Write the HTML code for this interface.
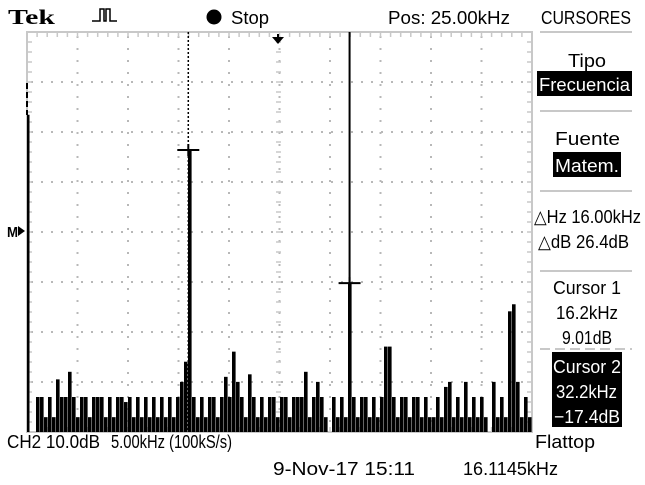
<!DOCTYPE html>
<html><head><meta charset="utf-8"><style>
html,body{margin:0;padding:0;background:#fff;width:645px;height:485px;overflow:hidden}
svg text{font-family:"Liberation Sans",sans-serif;font-size:18.5px;fill:#000}
</style></head><body>
<svg id="scope" width="645" height="485" viewBox="0 0 645 485" xmlns="http://www.w3.org/2000/svg">
<rect width="645" height="485" fill="#fff"/>
<g id="grid"></g>
<g id="bars"></g>
<g id="cursors"></g>

<text x="8" y="24" style="font-family:'Liberation Serif',serif;font-weight:bold;font-size:21px" textLength="47" lengthAdjust="spacingAndGlyphs">Tek</text>
<path d="M92 21 H100 V9 H104 V21 H106 V9 H110 V21 H117" fill="none" stroke="#000" stroke-width="1.5"/>
<circle cx="214" cy="17" r="7.5" fill="#000"/>
<text x="231" y="24" textLength="38" lengthAdjust="spacingAndGlyphs">Stop</text>
<text x="388" y="24" textLength="122" lengthAdjust="spacingAndGlyphs">Pos: 25.00kHz</text>
<text x="541" y="24" textLength="90" lengthAdjust="spacingAndGlyphs">CURSORES</text>

<g stroke="#c8c8c8" stroke-width="2">
<line x1="540" y1="32" x2="632" y2="32"/>
<line x1="540" y1="111" x2="632" y2="111"/>
<line x1="540" y1="191" x2="632" y2="191"/>
<line x1="540" y1="271" x2="632" y2="271"/>
<line x1="540" y1="349" x2="632" y2="349" stroke-dasharray="10,5"/>
</g>
<text x="568" y="67" textLength="38" lengthAdjust="spacingAndGlyphs">Tipo</text>
<rect x="537" y="71" width="95" height="25" fill="#000"/>
<text x="539" y="91" style="fill:#fff" textLength="91" lengthAdjust="spacingAndGlyphs">Frecuencia</text>
<text x="555" y="145" textLength="65" lengthAdjust="spacingAndGlyphs">Fuente</text>
<rect x="553" y="152" width="68" height="25" fill="#000"/>
<text x="555" y="172" style="fill:#fff" textLength="64" lengthAdjust="spacingAndGlyphs">Matem.</text>
<text x="534" y="223" textLength="107" lengthAdjust="spacingAndGlyphs">△Hz 16.00kHz</text>
<text x="538" y="248" textLength="91" lengthAdjust="spacingAndGlyphs">△dB 26.4dB</text>
<text x="553" y="294" textLength="68" lengthAdjust="spacingAndGlyphs">Cursor 1</text>
<text x="556" y="319" textLength="62" lengthAdjust="spacingAndGlyphs">16.2kHz</text>
<text x="562" y="344" textLength="50" lengthAdjust="spacingAndGlyphs">9.01dB</text>
<rect x="552" y="352" width="70" height="75" fill="#000"/>
<text x="553" y="373" style="fill:#fff" textLength="68" lengthAdjust="spacingAndGlyphs">Cursor 2</text>
<text x="556" y="398" style="fill:#fff" textLength="61" lengthAdjust="spacingAndGlyphs">32.2kHz</text>
<text x="554" y="423" style="fill:#fff" textLength="66" lengthAdjust="spacingAndGlyphs">−17.4dB</text>

<text x="7" y="448" textLength="93" lengthAdjust="spacingAndGlyphs">CH2 10.0dB</text>
<text x="111" y="448" textLength="121" lengthAdjust="spacingAndGlyphs">5.00kHz (100kS/s)</text>
<text x="535" y="448" textLength="60" lengthAdjust="spacingAndGlyphs">Flattop</text>
<text x="273" y="475" textLength="142" lengthAdjust="spacingAndGlyphs">9-Nov-17 15:11</text>
<text x="463" y="475" textLength="95" lengthAdjust="spacingAndGlyphs">16.1145kHz</text>
<text x="7" y="237" style="font-size:15px;font-weight:bold" textLength="11" lengthAdjust="spacingAndGlyphs">M</text>
<path d="M18 226 L25 231 L18 236 Z" fill="#000"/>
<path d="M272 37 H284 L278 44 Z M277 34 H279 V37 H277 Z" fill="#000"/>
</svg>
<script>
// Spectrum data: 126 bins, 4px each (0..50 kHz span), level in dB
const binLevelsDb = [16,-47,-40,-40,-44,-40,-44,-36.5,-40,-40,-35,-40,-44,-40,-40,-44,-40,-40,-40,-44,-40,-44,-40,-40,-41,-40,-44,-40,-44,-40,-44,-40,-44,-40,-44,-40,-44,-40,-37,-33,9,-40,-44,-40,-44,-40,-40,-44,-40,-36,-40,-31,-37,-40,-44,-35.5,-40,-44,-40,-44,-40,-40,-44,-40,-40,-44,-40,-40,-40,-35,-44,-40,-37,-40,-44,-47,-40,-44,-40,-44,-17.4,-40,-44,-40,-40,-44,-40,-44,-40,-30,-30,-40,-44,-40,-40,-44,-40,-40,-44,-40,-44,-44,-40,-44,-38,-37,-44,-40,-44,-37,-44,-40,-44,-40,-44,-47,-37,-44,-40,-44,-23,-21.6,-37,-44,-40,-44];
const cursorFreqsKHz = [16.2, 32.2];
const cursorLevelsDb = [9.01, -17.4];
const spanKHz = 50;

const NS = "http://www.w3.org/2000/svg";
const X0 = 28, X1 = 532, Y0 = 32, Y1 = 432;
function xOfBin(i){ return X0 + i * (X1 - X0) / binLevelsDb.length; }
function xOfFreq(f){ return X0 + f / spanKHz * (X1 - X0) - 3; }
function yOfDb(d){ return 195.4 - d * 5.04; }
function mk(tag, attrs, parent){ const e=document.createElementNS(NS,tag); for(const k in attrs) e.setAttribute(k,attrs[k]); parent.appendChild(e); return e; }

// graticule
const grid = document.getElementById('grid');
mk('rect',{x:27,y:32,width:505,height:400,fill:'none',stroke:'#c8c8c8','stroke-width':2},grid);
for(let i=1;i<10;i++){ const x=27+i*50.5;
  const l=mk('line',{x1:x,y1:36,x2:x,y2:428,stroke:'#b8b8b8','stroke-width':2,'stroke-dasharray':'2,10'},grid);
  
  
}
for(let j=1;j<8;j++){ const y=32+j*50;
  const l=mk('line',{x1:31,y1:y,x2:528,y2:y,stroke:'#b8b8b8','stroke-width':2,'stroke-dasharray':'2,8'},grid);
  
  
}
for(let k=0;k<=50;k++){ const x=27+k*10.1;
  mk('line',{x1:x,y1:32,x2:x,y2:37,stroke:'#c8c8c8','stroke-width':1.5},grid);
  mk('line',{x1:x,y1:427,x2:x,y2:432,stroke:'#c8c8c8','stroke-width':1.5},grid);
}
for(let k=0;k<=40;k++){ const y=32+k*10;
  mk('line',{x1:27,y1:y,x2:32,y2:y,stroke:'#c8c8c8','stroke-width':1.5},grid);
  mk('line',{x1:527,y1:y,x2:532,y2:y,stroke:'#c8c8c8','stroke-width':1.5},grid);
  mk('line',{x1:276,y1:y,x2:281,y2:y,stroke:'#c8c8c8','stroke-width':1.5},grid);
}

// spectrum bars
const bars = document.getElementById('bars');
binLevelsDb.forEach((d,i)=>{
  const top = Math.max(Y0, yOfDb(d));
  if (top >= Y1) return;
  const w = i===0 ? 2.5 : 3.6;
  const r = mk('rect',{x:xOfBin(i)-(i===0?1:0),y:top,width:w,height:Y1-top,fill:'#000'},bars);
  
  
});
mk('line',{x1:27,y1:83,x2:27,y2:115,stroke:'#000','stroke-width':2,'stroke-dasharray':'6,3'},bars);

// cursors
const cur = document.getElementById('cursors');
cursorFreqsKHz.forEach((f,i)=>{
  const x = xOfFreq(f), y = yOfDb(cursorLevelsDb[i]);
  const v = mk('line',{x1:x,y1:Y0,x2:x,y2:Y1,stroke:'#000','stroke-width':i===0?1.5:2,'stroke-dasharray':i===0?'2,2':'none'},cur);
  
  
  const h = mk('line',{x1:x-11,y1:y,x2:x+11,y2:y,stroke:'#000','stroke-width':2},cur);
  
  
  const t = mk('line',{x1:x,y1:y-6,x2:x,y2:y+6,stroke:'#000','stroke-width':2},cur);
  
  
});
</script>
</body></html>
